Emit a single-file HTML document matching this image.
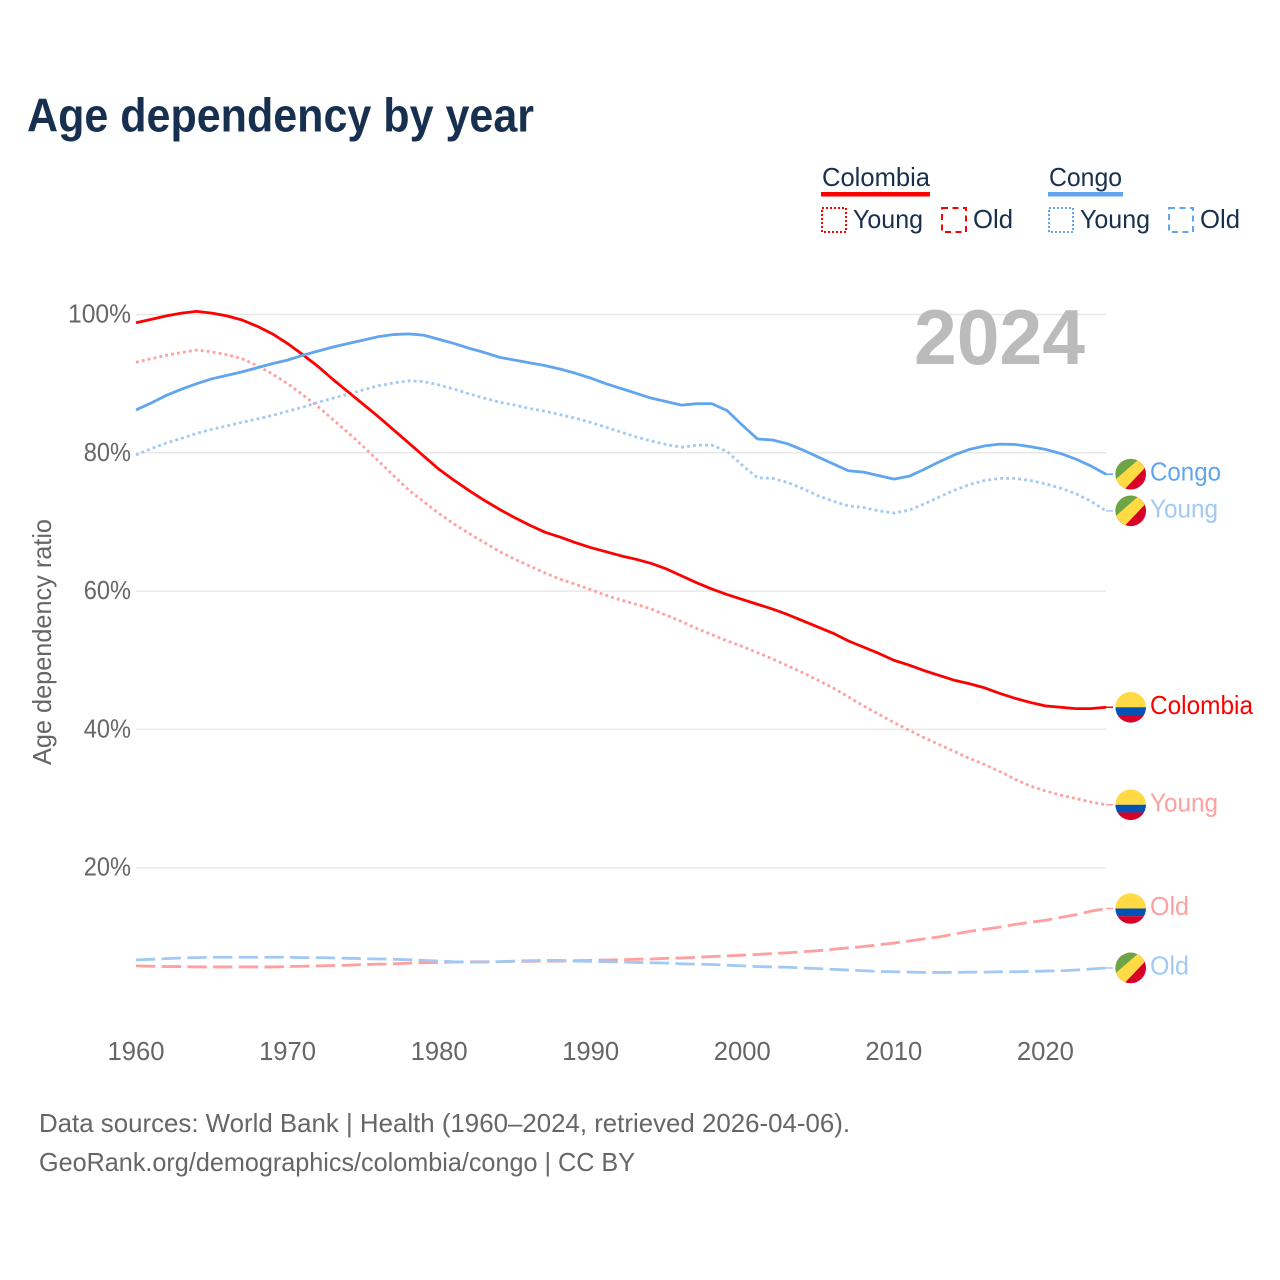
<!DOCTYPE html>
<html lang="en">
<head>
<meta charset="utf-8">
<title>Age dependency by year</title>
<style>
html,body{margin:0;padding:0;background:#fff;width:1280px;height:1280px;overflow:hidden}
svg{display:block}
text{font-family:"Liberation Sans",sans-serif}
</style>
</head>
<body>
<svg id="chart" xmlns="http://www.w3.org/2000/svg" width="1280" height="1280" viewBox="0 0 1280 1280">
  <defs>
    <clipPath id="flag-clip"><circle cx="0" cy="0" r="15.3"/></clipPath>
  </defs>
  <text x="27" y="131.5" font-size="47" font-weight="700" fill="#18304f" textLength="507" lengthAdjust="spacingAndGlyphs">Age dependency by year</text>

  <g fill="#18304f" font-size="26">
    <g>
      <text x="822" y="186" textLength="108" lengthAdjust="spacingAndGlyphs">Colombia</text>
      <rect x="821" y="192" width="109" height="4.5" fill="#ff0000"/>
      <rect x="822" y="208" width="24" height="24" fill="none" stroke="#ff0000" stroke-width="2" stroke-dasharray="2 2"/>
      <text x="853" y="228" textLength="70" lengthAdjust="spacingAndGlyphs">Young</text>
      <rect x="942" y="208" width="24" height="24" fill="none" stroke="#ff0000" stroke-width="2" stroke-dasharray="6 4.5"/>
      <text x="973" y="228" textLength="40" lengthAdjust="spacingAndGlyphs">Old</text>
    </g>
    <g>
      <text x="1049" y="186" textLength="73" lengthAdjust="spacingAndGlyphs">Congo</text>
      <rect x="1048" y="192" width="75" height="4.5" fill="#60a5ee"/>
      <rect x="1049" y="208" width="24" height="24" fill="none" stroke="#60a5ee" stroke-width="2" stroke-dasharray="2 2"/>
      <text x="1080" y="228" textLength="70" lengthAdjust="spacingAndGlyphs">Young</text>
      <rect x="1169" y="208" width="24" height="24" fill="none" stroke="#60a5ee" stroke-width="2" stroke-dasharray="6 4.5"/>
      <text x="1200" y="228" textLength="40" lengthAdjust="spacingAndGlyphs">Old</text>
    </g>
  </g>

  <g id="grid"></g>
  <g id="y-ticks"></g>
  <g id="x-ticks"></g>

  <text transform="translate(51 642) rotate(-90)" text-anchor="middle" font-size="26" fill="#666666" textLength="246" lengthAdjust="spacingAndGlyphs">Age dependency ratio</text>

  <text x="914" y="364" font-size="78" font-weight="700" fill="#bbbbbb" textLength="171" lengthAdjust="spacingAndGlyphs">2024</text>

  <g id="series"></g>
  <g id="end-markers"></g>

  <g font-size="26" fill="#666666">
    <text x="39" y="1132" textLength="811" lengthAdjust="spacingAndGlyphs">Data sources: World Bank | Health (1960–2024, retrieved 2026-04-06).</text>
    <text x="39" y="1171" textLength="596" lengthAdjust="spacingAndGlyphs">GeoRank.org/demographics/colombia/congo | CC BY</text>
  </g>
</svg>
<script>
const firstYear = 1960;
const xTickLabels = ['1960','1970','1980','1990','2000','2010','2020'];
const yTickValues = [100, 80, 60, 40, 20];

const colombiaTotal = [
  98.8,99.3,99.8,100.2,100.45,100.2,99.8,99.2,98.3,97.2,
  95.8,94.2,92.5,90.6,88.8,87.0,85.2,83.3,81.4,79.5,
  77.6,76.0,74.5,73.1,71.8,70.6,69.5,68.5,67.8,67.0,
  66.3,65.7,65.1,64.6,64.0,63.2,62.2,61.2,60.3,59.5,
  58.8,58.1,57.4,56.6,55.7,54.8,53.9,52.8,51.9,51.0,
  50.0,49.3,48.5,47.8,47.1,46.6,46.0,45.2,44.5,43.9,
  43.4,43.2,43.0,43.0,43.2
];
const colombiaYoung = [
  93.1,93.6,94.1,94.5,94.85,94.6,94.2,93.6,92.6,91.4,
  90.0,88.4,86.7,84.8,82.9,80.9,78.8,76.7,74.6,72.9,
  71.2,69.7,68.3,67.0,65.7,64.6,63.6,62.6,61.7,61.0,
  60.2,59.4,58.7,58.1,57.4,56.5,55.6,54.6,53.7,52.8,
  52.0,51.1,50.2,49.2,48.2,47.1,46.0,44.7,43.4,42.2,
  41.0,39.9,38.8,37.8,36.8,35.8,34.9,33.9,32.8,31.8,
  31.1,30.5,30.0,29.5,29.1
];
const colombiaOld = [
  5.8,5.75,5.7,5.7,5.65,5.65,5.65,5.65,5.65,5.65,
  5.7,5.75,5.8,5.85,5.9,6.0,6.05,6.1,6.2,6.25,
  6.3,6.35,6.4,6.4,6.4,6.45,6.45,6.5,6.5,6.55,
  6.6,6.65,6.7,6.75,6.8,6.9,6.95,7.05,7.15,7.25,
  7.35,7.45,7.6,7.7,7.85,8.0,8.2,8.4,8.6,8.85,
  9.1,9.4,9.7,10.0,10.4,10.8,11.1,11.4,11.8,12.1,
  12.4,12.8,13.2,13.7,14.1
];
const congoTotal = [
  86.2,87.2,88.3,89.2,90.0,90.7,91.2,91.7,92.3,92.9,
  93.4,94.1,94.7,95.3,95.8,96.3,96.8,97.1,97.2,97.0,
  96.4,95.8,95.1,94.5,93.8,93.4,93.0,92.6,92.1,91.5,
  90.8,90.0,89.3,88.6,87.9,87.4,86.9,87.1,87.1,86.1,
  84.0,82.0,81.85,81.3,80.4,79.4,78.4,77.4,77.2,76.7,
  76.2,76.6,77.6,78.7,79.7,80.5,81.0,81.25,81.2,80.9,
  80.5,79.9,79.1,78.1,76.9
];
const congoYoung = [
  79.7,80.6,81.4,82.1,82.8,83.4,83.9,84.4,84.9,85.4,
  86.0,86.6,87.3,87.9,88.5,89.1,89.7,90.1,90.4,90.3,
  89.8,89.2,88.5,87.9,87.3,86.9,86.4,86.0,85.5,85.0,
  84.4,83.7,83.0,82.3,81.7,81.2,80.8,81.1,81.1,80.2,
  78.2,76.4,76.3,75.7,74.8,73.8,73.0,72.3,72.1,71.6,
  71.3,71.7,72.6,73.6,74.6,75.4,76.0,76.3,76.3,76.0,
  75.5,74.9,74.1,73.0,71.6
];
const congoOld = [
  6.65,6.75,6.85,6.95,7.0,7.05,7.05,7.05,7.05,7.05,
  7.05,7.0,7.0,6.95,6.9,6.85,6.8,6.75,6.7,6.6,
  6.5,6.4,6.35,6.35,6.4,6.5,6.55,6.6,6.6,6.5,
  6.45,6.4,6.35,6.3,6.25,6.2,6.1,6.05,6.0,5.9,
  5.8,5.7,5.65,5.6,5.5,5.4,5.3,5.2,5.1,5.0,
  4.95,4.9,4.85,4.85,4.85,4.9,4.9,4.95,4.95,5.0,
  5.05,5.1,5.2,5.35,5.5
];

const NS = 'http://www.w3.org/2000/svg';
const lastYear = firstYear + colombiaTotal.length - 1;
function xScale(year) { return 136 + (year - firstYear) * (1106 - 136) / 64; }
function yScale(value) { return 314.5 + (100 - value) * 6.915; }

function make(tag, parent, attrs) {
  const el = document.createElementNS(NS, tag);
  for (const k in attrs) el.setAttribute(k, attrs[k]);
  parent.appendChild(el);
  return el;
}

const gridLayer = document.getElementById('grid');
const yTickLayer = document.getElementById('y-ticks');
const xTickLayer = document.getElementById('x-ticks');
const seriesLayer = document.getElementById('series');
const endLayer = document.getElementById('end-markers');

yTickValues.forEach(function (v) {
  const line = make('line', gridLayer, { x1: 136, x2: 1106, y1: yScale(v), y2: yScale(v), stroke: '#e8e8e8', 'stroke-width': 1.5 });
  
  
  const label = v + '%';
  const t = make('text', yTickLayer, { x: 131 - label.length * 15.75, y: yScale(v) + 8, 'font-size': 26, fill: '#666666', textLength: label.length * 15.75, lengthAdjust: 'spacingAndGlyphs' });
  t.textContent = label;
  
  
});

xTickLabels.forEach(function (label) {
  const t = make('text', xTickLayer, { x: xScale(Number(label)) - 28.5, y: 1060, 'font-size': 26, fill: '#666666', textLength: 57, lengthAdjust: 'spacingAndGlyphs' });
  t.textContent = label;
  
  
});

function drawSeries(values, color, width, dash, name) {
  const d = values.map(function (v, i) {
    return (i ? 'L' : 'M') + xScale(firstYear + i).toFixed(2) + ' ' + yScale(v).toFixed(2);
  }).join(' ');
  const p = make('path', seriesLayer, { d: d, fill: 'none', stroke: color, 'stroke-width': width, 'stroke-linejoin': 'round' });
  if (dash) p.setAttribute('stroke-dasharray', dash);
  
  
}

const lightRed = '#ff9f9f';
const lightBlue = '#a2c9f3';
const solidRed = '#ff0000';
const solidBlue = '#60a5ee';
const dotted = '2.8 3.2';
const dashed = '19.3 6.4';

drawSeries(colombiaOld, lightRed, 2.8, dashed, 'colombia-old-line');
drawSeries(congoOld, lightBlue, 2.8, dashed, 'congo-old-line');
drawSeries(colombiaYoung, lightRed, 2.8, dotted, 'colombia-young-line');
drawSeries(congoYoung, lightBlue, 2.8, dotted, 'congo-young-line');
drawSeries(colombiaTotal, solidRed, 2.8, null, 'colombia-total-line');
drawSeries(congoTotal, solidBlue, 2.8, null, 'congo-total-line');

function drawColombiaFlag(g) {
  make('rect', g, { x: -16, y: -16, width: 32, height: 16, fill: '#ffda44' });
  make('rect', g, { x: -16, y: 0, width: 32, height: 7.7, fill: '#0052b4' });
  make('rect', g, { x: -16, y: 7.7, width: 32, height: 9, fill: '#d80027' });
}
function drawCongoFlag(g) {
  make('rect', g, { x: -16, y: -16, width: 32, height: 32, fill: '#d80027' });
  make('polygon', g, { points: '-20,24 -7,16 13,-5 20,-16 0,-20 -20,0', fill: '#ffda44' });
  make('polygon', g, { points: '-20,9 -13.3,3.7 6.7,-13.7 12,-20 -20,-20', fill: '#6da544' });
}

function drawEnd(values, color, country, label, labelWidth, name) {
  const yEnd = yScale(values[values.length - 1]);
  const xEnd = xScale(lastYear);
  const stub = make('line', endLayer, { x1: xEnd, x2: xEnd + 7, y1: yEnd, y2: yEnd, stroke: color, 'stroke-width': 1.5 });
  
  
  const g = make('g', endLayer, { transform: 'translate(1130.7 ' + yEnd + ')', 'clip-path': 'url(#flag-clip)' });
  
  
  if (country === 'colombia') drawColombiaFlag(g); else drawCongoFlag(g);
  const t = make('text', endLayer, { x: 1150, y: yEnd + 6.5, 'font-size': 26, fill: color, textLength: labelWidth, lengthAdjust: 'spacingAndGlyphs' });
  t.textContent = label;
  
  
}

drawEnd(congoTotal, solidBlue, 'congo', 'Congo', 71, 'congo-total');
drawEnd(congoYoung, lightBlue, 'congo', 'Young', 68, 'congo-young');
drawEnd(colombiaTotal, solidRed, 'colombia', 'Colombia', 103, 'colombia-total');
drawEnd(colombiaYoung, lightRed, 'colombia', 'Young', 68, 'colombia-young');
drawEnd(colombiaOld, lightRed, 'colombia', 'Old', 39, 'colombia-old');
drawEnd(congoOld, lightBlue, 'congo', 'Old', 39, 'congo-old');
</script>
</body>
</html>
